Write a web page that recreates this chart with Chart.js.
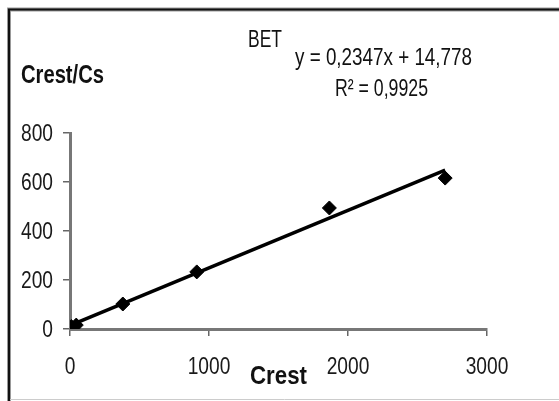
<!DOCTYPE html>
<html>
<head>
<meta charset="utf-8">
<script src="https://cdn.jsdelivr.net/npm/chart.js@4/dist/chart.umd.min.js"></script>
<style>
  html, body { margin: 0; padding: 0; background: #fff; }
  #wrap { width: 559px; height: 401px; }
</style>
</head>
<body>
<div id="wrap"><canvas id="betChart"></canvas></div>
<script>
// measured points (Crest vs Crest/Cs)
const crest = [10, 45, 380, 912, 1866, 2699];
const crestCs = [10, 16, 102, 233, 494, 616];

// linear fit shown on the chart
const slope = 0.2347;
const intercept = 14.778;
const r2 = 0.9925;

const xTicks = [0, 1000, 2000, 3000];
const yTicks = [0, 200, 400, 600, 800];

const fitLine = [crest[0], crest[crest.length - 1]].map(x => ({x: x, y: slope * x + intercept}));

const FONT = "'Liberation Sans', Arial, sans-serif";
const comma = v => v.toString().replace('.', ',');

// narrow text: squeeze horizontally by sx (no condensed face installed)
function narrowText(c, text, x, y, sx, align) {
    c.save();
    c.translate(x, y);
    c.scale(sx, 1);
    c.textAlign = align || 'left';
    c.fillText(text, 0, 0);
    c.restore();
}

// same, but squeezed to a given width
function fitText(c, text, x, y, width) {
    const w = c.measureText(text).width;
    narrowText(c, text, x, y, width / w, 'left');
}

const frameAndText = {
    id: 'frameAndText',
    beforeDraw(chart) {
        const c = chart.ctx;
        c.save();
        c.fillStyle = '#fff';
        c.fillRect(0, 0, chart.width, chart.height);
        c.strokeStyle = '#999';
        c.lineWidth = 4;
        c.beginPath();
        c.moveTo(9, 401); c.lineTo(9, 9.5); c.lineTo(559, 9.5);
        c.stroke();
        c.strokeStyle = '#111';
        c.lineWidth = 2;
        c.beginPath();
        c.moveTo(9, 401); c.lineTo(9, 9.5); c.lineTo(559, 9.5);
        c.stroke();
        c.strokeStyle = '#ccc';
        c.lineWidth = 1;
        c.beginPath();
        c.moveTo(10, 399.5); c.lineTo(559, 399.5);
        c.stroke();
        c.restore();
    },
    afterDraw(chart) {
        const c = chart.ctx;
        const xs = chart.scales.x, ys = chart.scales.y;
        c.save();
        c.fillStyle = '#1a1a1a';
        c.textBaseline = 'middle';

        // tick labels
        c.font = '24px ' + FONT;
        xs.ticks.forEach((t, i) => {
            narrowText(c, String(t.value), xs.getPixelForTick(i), 367, 0.8, 'center');
        });
        ys.ticks.forEach((t, i) => {
            narrowText(c, String(t.value), 53, ys.getPixelForTick(i) + 1, 0.8, 'right');
        });

        // axis titles
        c.fillStyle = '#111';
        c.font = 'bold 25px ' + FONT;
        fitText(c, 'Crest/Cs', 21, 76, 83);
        fitText(c, 'Crest', 250, 377, 57);

        // fit annotation
        c.font = '23px ' + FONT;
        fitText(c, 'BET', 248, 41, 34);
        c.font = '24px ' + FONT;
        fitText(c, 'y = ' + comma(slope) + 'x + ' + comma(intercept), 295, 58, 177);
        fitText(c, 'R\u00b2 = ' + comma(r2), 335, 89, 93);
        c.restore();
    }
};

let ctx = document.getElementById('betChart').getContext('2d');

let myChart = new Chart(ctx, {
    type: 'scatter',
    data: {
        datasets: [{
            data: crest.map((x, i) => ({x: x, y: crestCs[i]})),
            pointStyle: 'rectRot',
            pointRadius: 7,
            backgroundColor: '#000',
            borderColor: '#000',
            order: 1
        },
        {
            type: 'line',
            data: fitLine,
            borderColor: '#000',
            borderWidth: 3.5,
            pointRadius: 0,
            fill: false,
            order: 2
        }]
    },
    options: {
        responsive: true,
        maintainAspectRatio: false,
        animation: false,
        layout: {
            padding: {left: 0, top: 133, right: 72, bottom: 0}
        },
        plugins: {
            legend: { display: false },
            tooltip: { enabled: false }
        },
        scales: {
            x: {
                type: 'linear',
                min: 0,
                max: 3000,
                afterFit(scale) { scale.height = 72; },
                afterBuildTicks(scale) { scale.ticks = xTicks.map(v => ({value: v})); },
                grid: {
                    drawOnChartArea: false,
                    color: '#666',
                    lineWidth: 1.5,
                    tickLength: 7
                },
                border: { color: '#777', width: 3 },
                ticks: { display: false }
            },
            y: {
                min: 0,
                max: 800,
                afterFit(scale) { scale.width = 70; },
                afterBuildTicks(scale) { scale.ticks = yTicks.map(v => ({value: v})); },
                grid: {
                    drawOnChartArea: false,
                    color: '#666',
                    lineWidth: 1.5,
                    tickLength: 7
                },
                border: { color: '#777', width: 3 },
                ticks: { display: false }
            }
        }
    },
    plugins: [frameAndText]
});
</script>
</body>
</html>
